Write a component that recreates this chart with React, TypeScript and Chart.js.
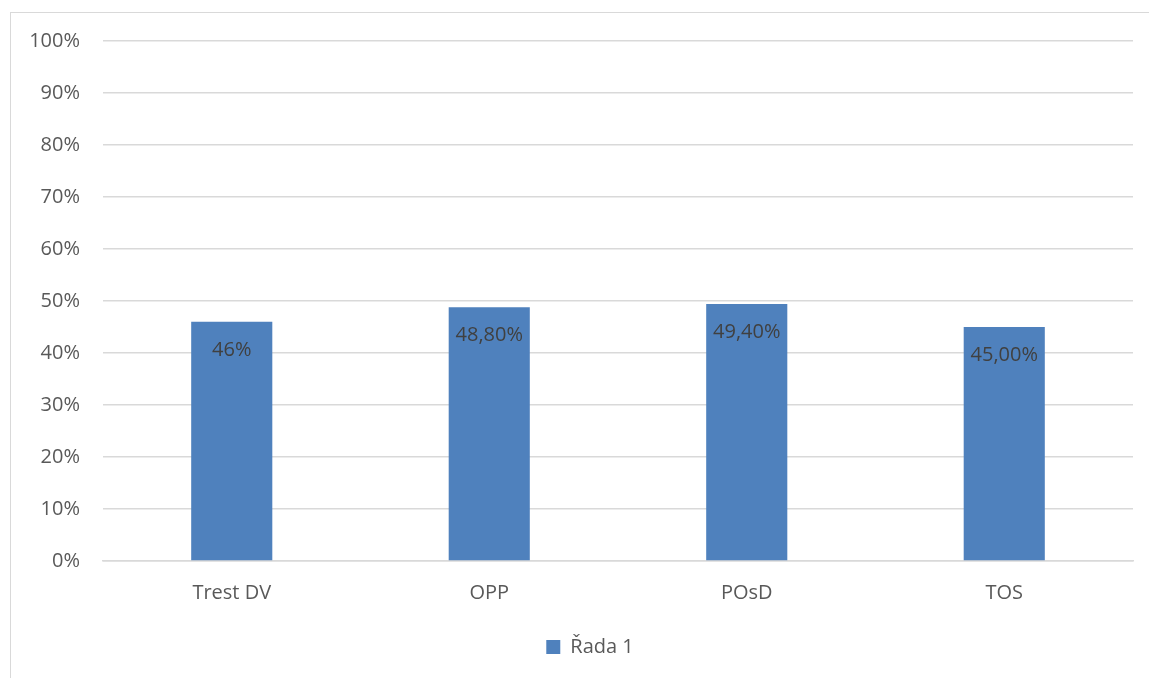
import React, { useEffect, useRef } from "react";
import { Chart, registerables } from "chart.js";

Chart.register(...registerables);

const categories = ["Trest DV", "OPP", "POsD", "TOS"];
const seriesName = "Řada 1";
const values = [46, 48.8, 49.4, 45];
const valueLabels = ["46%", "48,80%", "49,40%", "45,00%"];
const yTicks = [0, 10, 20, 30, 40, 50, 60, 70, 80, 90, 100];

const FONT = "'Open Sans', 'Liberation Sans', sans-serif";

const dataLabelPlugin = {
  id: "insideEndLabels",
  afterLayout(chart: any) {
    if (chart.legend) {
      chart.legend.left += 18;
      chart.legend.right += 18;
    }
  },
  afterDatasetsDraw(chart: any) {
    const ctx = chart.ctx;
    const meta = chart.getDatasetMeta(0);
    ctx.save();
    ctx.font = `20px ${FONT}`;
    ctx.fillStyle = "#404040";
    ctx.textAlign = "center";
    ctx.textBaseline = "middle";
    meta.data.forEach((bar: any, i: number) => {
      ctx.fillText(valueLabels[i], bar.x, bar.y + 28);
    });
    ctx.restore();
  },
};

export default function App() {
  const ref = useRef<HTMLCanvasElement | null>(null);
  useEffect(() => {
    if (!ref.current) return;
    const chart = new Chart(ref.current, {
      type: "bar",
      data: {
        labels: categories,
        datasets: [
          {
            label: seriesName,
            data: values,
            backgroundColor: "#4F81BD",
            borderWidth: 0,
            barPercentage: 0.315,
            categoryPercentage: 1,
          },
        ],
      },
      options: {
        animation: false,
        responsive: false,
        maintainAspectRatio: false,
        layout: { padding: { top: 28, right: 16, bottom: 11, left: 0 } },
        plugins: {
          legend: {
            position: "bottom",
            labels: {
              boxWidth: 14,
              boxHeight: 14,
              color: "#595959",
              font: { family: FONT, size: 20 },
            },
          },
          tooltip: { enabled: false },
        },
        scales: {
          x: {
            grid: { display: false, drawTicks: false },
            border: { display: true, color: "#d9d9d9", width: 1.5 },
            ticks: {
              color: "#595959",
              font: { family: FONT, size: 20 },
              padding: 20,
            },
            afterFit(scale: any) {
              scale.height = 66;
            },
          },
          y: {
            min: 0,
            max: 100,
            afterBuildTicks(scale: any) {
              scale.ticks = yTicks.map((v) => ({ value: v }));
            },
            grid: { color: "#d9d9d9", lineWidth: 1.5, drawTicks: false },
            border: { display: false },
            ticks: {
              color: "#595959",
              font: { family: FONT, size: 20 },
              padding: 23,
              callback: (v: any) => `${v}%`,
            },
            afterFit(scale: any) {
              scale.width = 92;
              scale.paddingTop = 0;
              scale.paddingBottom = 0;
            },
          },
        },
      },
      plugins: [dataLabelPlugin],
    });
    return () => chart.destroy();
  }, []);

  return (
    <div
      style={{
        position: "fixed",
        left: 10,
        top: 12,
        width: 1160,
        height: 700,
        border: "1px solid #d9d9d9",
        background: "#fff",
      }}
    >
      <canvas ref={ref} width={1138} height={665} style={{ display: "block" }} />
    </div>
  );
}
